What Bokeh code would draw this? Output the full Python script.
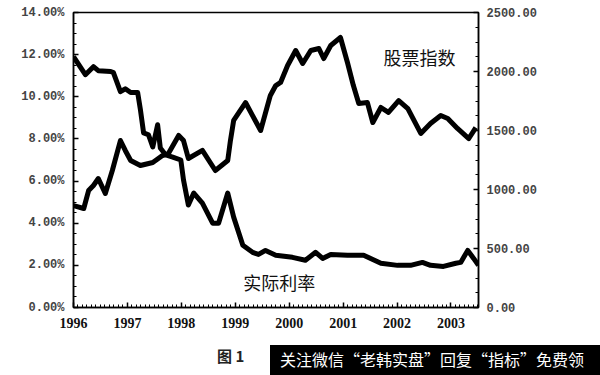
from bokeh.plotting import figure
from bokeh.models import Range1d, LinearAxis, FixedTicker, PrintfTickFormatter, Label, Div
from bokeh.layouts import column
from bokeh.embed import file_html
from bokeh.resources import INLINE

# ---- data ----
rate_year = [1996.00, 1996.22, 1996.37, 1996.46, 1996.69, 1996.74, 1996.87, 1996.96,
             1997.06, 1997.19, 1997.24, 1997.30, 1997.39, 1997.47, 1997.56, 1997.61,
             1997.71, 1997.84, 1997.99, 1998.04, 1998.13, 1998.23, 1998.39, 1998.58,
             1998.69, 1998.86, 1998.97, 1999.14, 1999.32, 1999.43, 1999.56, 1999.75,
             2000.06, 2000.30, 2000.49, 2000.62, 2000.77, 2001.08, 2001.38, 2001.70,
             2002.01, 2002.25, 2002.47, 2002.62, 2002.86, 2003.09, 2003.18, 2003.31,
             2003.42, 2003.51]
rate_pct = [11.9, 11.05, 11.43, 11.24, 11.2, 11.15, 10.24, 10.38,
            10.2, 10.2, 9.4, 8.29, 8.2, 7.62, 8.67, 7.57,
            7.24, 7.14, 7.0, 6.05, 4.86, 5.43, 4.95, 4.0,
            4.0, 5.43, 4.29, 2.95, 2.62, 2.52, 2.71, 2.48,
            2.38, 2.24, 2.62, 2.33, 2.52, 2.48, 2.48, 2.1,
            2.0, 2.0, 2.14, 2.0, 1.95, 2.1, 2.14, 2.71,
            2.33, 2.0]

index_year = [1996.00, 1996.19, 1996.28, 1996.37, 1996.46, 1996.59, 1996.72, 1996.87,
              1996.96, 1997.06, 1997.24, 1997.47, 1997.65, 1997.76, 1997.95, 1998.04,
              1998.13, 1998.39, 1998.63, 1998.86, 1998.91, 1998.97, 1999.19, 1999.47,
              1999.65, 1999.75, 1999.84, 1999.97, 2000.12, 2000.25, 2000.40, 2000.55,
              2000.64, 2000.77, 2000.95, 2001.08, 2001.19, 2001.29, 2001.45, 2001.55,
              2001.70, 2001.84, 2002.03, 2002.20, 2002.44, 2002.62, 2002.81, 2002.94,
              2003.12, 2003.33, 2003.46]
index_val = [864, 839, 991, 1034, 1093, 966, 1161, 1415,
             1331, 1246, 1203, 1229, 1288, 1305, 1458, 1415,
             1263, 1331, 1161, 1246, 1415, 1585, 1737, 1500,
             1797, 1881, 1907, 2051, 2178, 2068, 2178, 2195,
             2110, 2220, 2288, 2076, 1881, 1729, 1737, 1568,
             1695, 1653, 1754, 1686, 1475, 1559, 1627, 1602,
             1517, 1432, 1525]

year_ticks = [1996, 1997, 1998, 1999, 2000, 2001, 2002, 2003]
pct_ticks = [0, 2, 4, 6, 8, 10, 12, 14]
idx_ticks = [0, 500, 1000, 1500, 2000, 2500]

label_rate = "实际利率"
label_index = "股票指数"
caption = "图 1"
watermark = "关注微信“老韩实盘”回复“指标”免费领"

# ---- main figure ----
p = figure(width=600, height=335, output_backend="svg", toolbar_location=None,
           x_range=Range1d(1996, 2003.51), y_range=Range1d(0, 14),
           min_border_left=73, min_border_right=122, min_border_top=12,
           min_border_bottom=28)
p.extra_y_ranges = {"idx": Range1d(0, 2500)}
p.xgrid.visible = False
p.ygrid.visible = False
p.outline_line_color = "black"
p.outline_line_width = 1.5
p.background_fill_color = "white"
p.border_fill_color = "white"

p.line(index_year, index_val, y_range_name="idx", line_color="black",
       line_width=5, line_join="round")
p.line(rate_year, rate_pct, line_color="black", line_width=5, line_join="round")

minor_months = [1996 + m / 12 for m in range(0, 91)]

xa = p.xaxis[0]
xa.ticker = FixedTicker(ticks=year_ticks, minor_ticks=minor_months)
xa.major_label_text_font = "Liberation Serif"
xa.major_label_text_font_style = "bold"
xa.major_label_text_font_size = "14px"
xa.major_label_text_color = "#111111"
xa.major_label_standoff = 10

ya = p.yaxis[0]
ya.ticker = FixedTicker(ticks=pct_ticks, minor_ticks=[v / 2 for v in range(0, 29)])
ya.formatter = PrintfTickFormatter(format="%.2f%%")
ya.major_label_text_font = "Liberation Mono"
ya.major_label_text_font_style = "bold"
ya.major_label_text_font_size = "12px"
ya.major_label_standoff = 9

ra = LinearAxis(y_range_name="idx")
ra.ticker = FixedTicker(ticks=idx_ticks, minor_ticks=list(range(0, 2501, 125)))
ra.formatter = PrintfTickFormatter(format="%.2f")
ra.major_label_text_font = "Liberation Mono"
ra.major_label_text_font_style = "bold"
ra.major_label_text_font_size = "12px"
ra.major_label_standoff = 8
p.add_layout(ra, "right")

for ax in (xa, ya, ra):
    ax.axis_line_color = "black"
    ax.axis_line_width = 1.5
    ax.major_tick_in = 5
    ax.major_tick_out = 0
    ax.minor_tick_in = 3
    ax.minor_tick_out = 0
    ax.major_tick_line_width = 1.5
    ax.minor_tick_line_width = 1

p.add_layout(Label(x=2001.75, y=11.9, text=label_index, text_baseline="middle",
                   text_font="Noto Sans CJK SC", text_font_size="18px",
                   text_color="#111111"))
p.add_layout(Label(x=1999.15, y=1.19, text=label_rate, text_baseline="middle",
                   text_font="Noto Sans CJK SC", text_font_size="18px",
                   text_color="#111111"))

# ---- caption strip (HTML) ----
html = (
    '<div style="position:relative;width:600px;height:40px;overflow:hidden;'
    'background:white;font-family:\'Noto Sans CJK SC\';">'
    '<span style="position:absolute;left:217px;top:11px;font-size:15px;'
    'font-weight:bold;color:#222;line-height:20px;white-space:nowrap;">' + caption + '</span>'
    '<div style="position:absolute;left:270px;top:10px;width:330px;height:30px;'
    'background:black;overflow:hidden;">'
    '<span style="position:absolute;left:10px;top:4px;font-size:16px;color:white;'
    'line-height:20px;white-space:nowrap;">' + watermark + '</span></div></div>'
)
strip = Div(text=html, width=600, height=40, margin=0)

layout = column(p, strip, spacing=0)
open("out.html", "w").write(file_html(layout, INLINE))
